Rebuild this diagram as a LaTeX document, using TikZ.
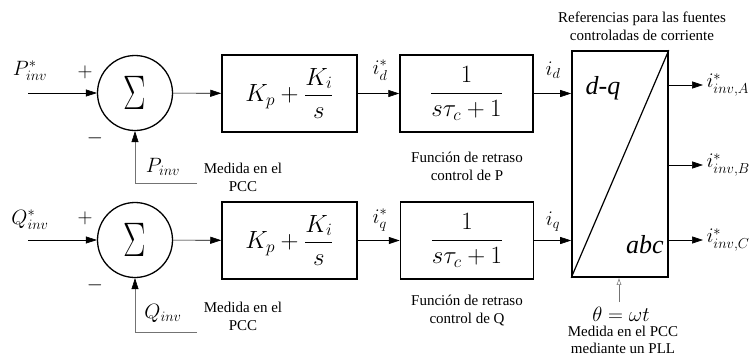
\documentclass[tikz,border=0pt]{standalone}
\usepackage{amsmath}
\usepackage{fontspec}
\setmainfont{Liberation Serif}
\usepackage{tikz}
\usetikzlibrary{arrows.meta,positioning}
\tikzset{
  blk/.style={draw,line width=1.5pt,minimum width=135pt,minimum height=77pt,
              inner sep=0pt},
  sumc/.style={draw,circle,line width=1.3pt,minimum size=75pt,inner sep=0pt},
  arr/.style={-{Triangle[length=11pt,width=7pt,color=black]},line width=0.6pt},
  fbk/.style={arr,draw=black!55},
  mlbl/.style={font=\fontsize{22}{22}\selectfont},
  note/.style={font=\fontsize{15}{18}\selectfont,align=center},
}
\newcommand{\sumsign}{\scalebox{1.35}[1.95]{\fontsize{24}{24}\selectfont$\Sigma$}}

\begin{document}
\begin{tikzpicture}[x=1pt,y=-1pt]
\useasboundingbox (0,0) rectangle (749,359);
% upper loop (P)
\coordinate (inP) at (28,93);
\node[sumc] (sumP) at (135,93) {\sumsign};
\node[blk] (piP) at (289.5,93.5) {\fontsize{25}{25}\selectfont$K_p+\dfrac{K_i}{s}$};
\node[blk,minimum width=133pt] (lagP) at (466.5,93.5) {\fontsize{25}{25}\selectfont$\dfrac{1}{s\tau_c+1}$};
\coordinate (fbP) at (197,183);
% lower loop (Q)
\coordinate (inQ) at (28,240);
\node[sumc] (sumQ) at (135,240) {\sumsign};
\node[blk] (piQ) at (289.5,240.5) {\fontsize{25}{25}\selectfont$K_p+\dfrac{K_i}{s}$};
\node[blk,minimum width=133pt] (lagQ) at (467,240.5) {\fontsize{25}{25}\selectfont$\dfrac{1}{s\tau_c+1}$};
\coordinate (fbQ) at (197,332);
% dq -> abc
\node[draw,line width=1.6pt,minimum width=96pt,minimum height=226pt] (tr) at (620,164) {};
\draw[line width=1.2pt] (tr.south west) -- (tr.north east);
\node[font=\fontsize{26}{26}\selectfont\itshape] (dq) at (603,88) {d-q};
\node[font=\fontsize{26}{26}\selectfont\itshape] (abc) at (645,245) {abc};
\coordinate (outA) at (703,85);
\coordinate (outB) at (703,165);
\coordinate (outC) at (703,240);
\coordinate (th) at (619,302);

\draw[arr] (inP) -- (sumP);
\draw[arr] (sumP) -- (piP);
\draw[arr] (piP) -- (lagP);
\draw[arr] (lagP) -- (lagP -| tr.west);
\draw[fbk] (fbP) -| (sumP.south);
\draw[arr] (inQ) -- (sumQ);
\draw[arr] (sumQ) -- (piQ);
\draw[arr] (piQ) -- (lagQ);
\draw[arr] (lagQ) -- (lagQ -| tr.west);
\draw[fbk] (fbQ) -| (sumQ.south);
\foreach \o in {outA,outB,outC}
  \draw[arr] (tr.east |- \o) -- (\o);
\draw[-{Latex[open,length=7pt,width=5pt]},black!55,line width=0.5pt] (th) -- (th |- tr.south);

% labels
\node[mlbl] (lPr) at (30,71) {$P^{*}_{inv}$};
\node[mlbl] (lQr) at (30,220) {$Q^{*}_{inv}$};
\node[mlbl] (pP) at (85,72) {$+$};
\node[mlbl] (mP) at (95,138) {$-$};
\node[mlbl] (pQ) at (85,218) {$+$};
\node[mlbl] (mQ) at (95,285) {$-$};
\node[mlbl] (lP) at (163,167) {$P_{inv}$};
\node[mlbl] (lQ) at (163,313) {$Q_{inv}$};
\node[note] (mdP) at (243,177) {Medida en el\\PCC};
\node[note] (mdQ) at (243,316) {Medida en el\\PCC};
\node[mlbl] (ldr) at (380,70) {$i^{*}_{d}$};
\node[mlbl] (lqr) at (380,220) {$i^{*}_{q}$};
\node[mlbl] (ld) at (553,70) {$i_{d}$};
\node[mlbl] (lq) at (553,222) {$i_{q}$};
\node[note] (fP) at (467,166) {Función de retraso\\control de P};
\node[note] (fQ) at (467,310) {Función de retraso\\control de Q};
\node[note] (ttl) at (642,26) {Referencias para las fuentes\\controladas de corriente};
\node[mlbl,right] (lA) at (outA) {$i^{*}_{inv,A}$};
\node[mlbl,right] (lB) at (outB) {$i^{*}_{inv,B}$};
\node[mlbl,right] (lC) at (outC) {$i^{*}_{inv,C}$};
\node[mlbl,inner sep=1pt] (lth) at (621,314) {$\theta=\omega t$};
\node[note,font=\fontsize{15}{17}\selectfont,inner sep=0pt] (mpll) at (623,340) {Medida en el PCC\\mediante un PLL};
\end{tikzpicture}
\end{document}
